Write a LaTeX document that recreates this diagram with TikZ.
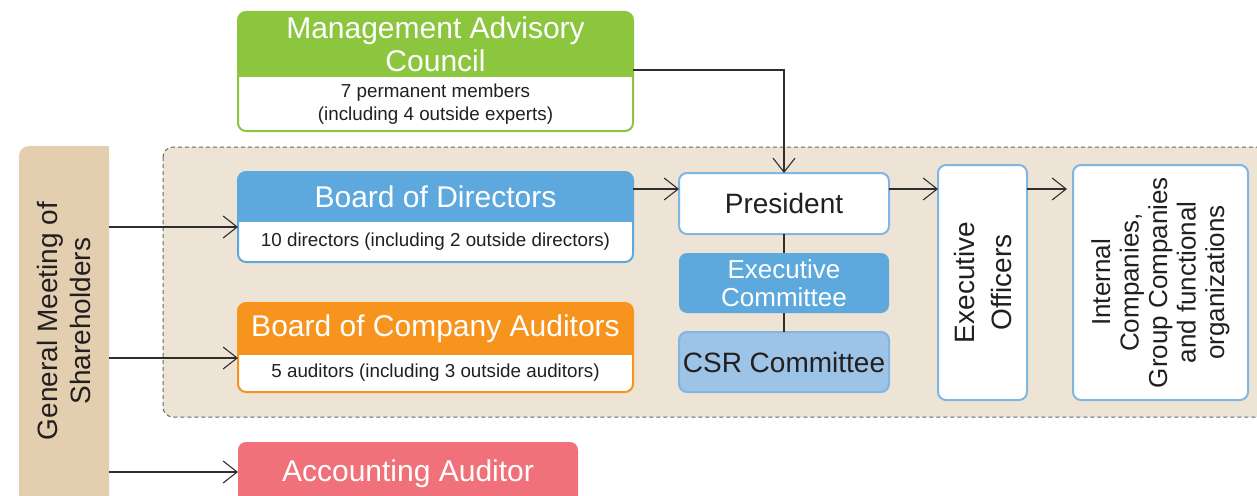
\documentclass[tikz,border=0pt]{standalone}
\usepackage{fontspec}
\setmainfont{Liberation Sans}
\usetikzlibrary{arrows.meta}
\definecolor{greenc}{HTML}{8CC63F}
\definecolor{bluec}{HTML}{5DA9DD}
\definecolor{orangec}{HTML}{F7941D}
\definecolor{pinkc}{HTML}{F0717A}
\definecolor{csrc}{HTML}{9DC3E6}
\definecolor{borderc}{HTML}{80B6E2}
\definecolor{gmsc}{HTML}{E3CFB0}
\definecolor{regionc}{HTML}{EEE4D5}
\definecolor{dashc}{HTML}{666666}
\definecolor{linec}{HTML}{2E2E2E}
\definecolor{txt}{HTML}{231F20}
\begin{document}
\begin{tikzpicture}[x=1pt,y=-1pt,
  conn/.style={draw=linec, line width=1.1pt},
  arr/.style={conn, -{Straight Barb[length=14pt,width=22pt,line width=1.1pt]}},
  hdr/.style={text=white, font=\fontsize{30}{33}\selectfont, align=center},
  sub/.style={text=txt, font=\fontsize{18.8}{23.5}\selectfont, align=center},
  frame/.style={anchor=north west, inner sep=0pt, outer sep=0pt},
  bluebox/.style={frame, rounded corners=8pt, line width=2pt, draw=borderc, fill=white},
  big/.style={font=\fontsize{28}{33}\selectfont, text=txt, align=center},
]
\useasboundingbox (0,0) rectangle (1257,495);

% dashed region
\draw[fill=regionc, draw=dashc, line width=1pt, dash pattern=on 4pt off 3pt, rounded corners=10pt] (163,147) rectangle (1300,417);

% General Meeting of Shareholders
\node[frame, fill=gmsc, rounded corners=10pt, minimum width=90pt, minimum height=380pt] (gms) at (19,146) {};
\fill[gmsc] (gms.north) rectangle (gms.south east);
\node[big, rotate=90] (gmst) at (64,321) {General Meeting of\\Shareholders};

% Management Advisory Council
\node[frame, minimum width=395pt, minimum height=119pt] (mac) at (238,12) {};
\begin{scope}
\clip[rounded corners=8pt] (mac.north west) rectangle (mac.south east);
\fill[white] (mac.north west) rectangle (mac.south east);
\fill[greenc] (mac.north west) rectangle (633,77);
\end{scope}
\draw[greenc, line width=2pt, rounded corners=8pt] (mac.north west) rectangle (mac.south east);
\node[hdr] (mact) at (435.5,44) {Management Advisory\\Council};
\node[sub] (macs) at (435.5,104) {7 permanent members\\(including 4 outside experts)};

% Board of Directors
\node[frame, minimum width=395pt, minimum height=90pt] (bod) at (238,172) {};
\begin{scope}
\clip[rounded corners=8pt] (bod.north west) rectangle (bod.south east);
\fill[white] (bod.north west) rectangle (bod.south east);
\fill[bluec] (bod.north west) rectangle (633,222);
\end{scope}
\draw[bluec, line width=2pt, rounded corners=8pt] (bod.north west) rectangle (bod.south east);
\node[hdr] (bodt) at (435.5,197) {Board of Directors};
\node[sub] (bods) at (435.5,242) {10 directors (including 2 outside directors)};

% Board of Company Auditors
\node[frame, minimum width=395pt, minimum height=89pt] (bca) at (238,303) {};
\begin{scope}
\clip[rounded corners=8pt] (bca.north west) rectangle (bca.south east);
\fill[white] (bca.north west) rectangle (bca.south east);
\fill[orangec] (bca.north west) rectangle (633,355);
\end{scope}
\draw[orangec, line width=2pt, rounded corners=8pt] (bca.north west) rectangle (bca.south east);
\node[hdr] (bcat) at (435.5,329) {Board of Company Auditors};
\node[sub] (bcas) at (435.5,373) {5 auditors (including 3 outside auditors)};

% Accounting Auditor
\node[frame, fill=pinkc, rounded corners=8pt, minimum width=340pt, minimum height=64pt, hdr] (aa) at (238,442) {Accounting Auditor};

% President column
\node[bluebox, minimum width=210pt, minimum height=61pt, big] (pres) at (679,173) {President};
\node[frame, rounded corners=8pt, fill=bluec, minimum width=210pt, minimum height=60pt, text=white, align=center, font=\fontsize{26}{28}\selectfont] (ec) at (679,253) {Executive\\Committee};
\node[frame, rounded corners=8pt, fill=csrc, draw=borderc, line width=2pt, minimum width=210pt, minimum height=60pt, big] (csr) at (679,332) {CSR Committee};

% Executive Officers
\node[bluebox, minimum width=89pt, minimum height=235pt] (eo) at (938,165) {};
\node[rotate=90, text=txt, align=center, font=\fontsize{28}{37}\selectfont] (eot) at (eo.center) {Executive\\Officers};

% Internal Companies
\node[bluebox, minimum width=175pt, minimum height=235pt] (ic) at (1073,165) {};
\node[rotate=90, text=txt, align=center, font=\fontsize{26}{28.5}\selectfont] (ict) at (ic.center) {Internal\\Companies,\\Group Companies\\and functional\\organizations};

% connectors
\coordinate (macy) at (633,70);
\coordinate (py) at (0,189);
\coordinate (g1) at (0,227);
\coordinate (g2) at (0,358);
\coordinate (g3) at (0,472);
\draw[arr] (macy) -| (pres.north);
\draw[arr] (bod.east |- py) -- (pres.west |- py);
\draw[arr] (pres.east |- py) -- (eo.west |- py);
\draw[arr, shorten >=6pt] (eo.east |- py) -- (ic.west |- py);
\draw[conn] (pres.south) -- (ec.north);
\draw[conn] (ec.south) -- (csr.north);
\draw[arr] (gms.east |- g1) -- (bod.west |- g1);
\draw[arr] (gms.east |- g2) -- (bca.west |- g2);
\draw[arr] (gms.east |- g3) -- (aa.west |- g3);
\end{tikzpicture}
\end{document}
